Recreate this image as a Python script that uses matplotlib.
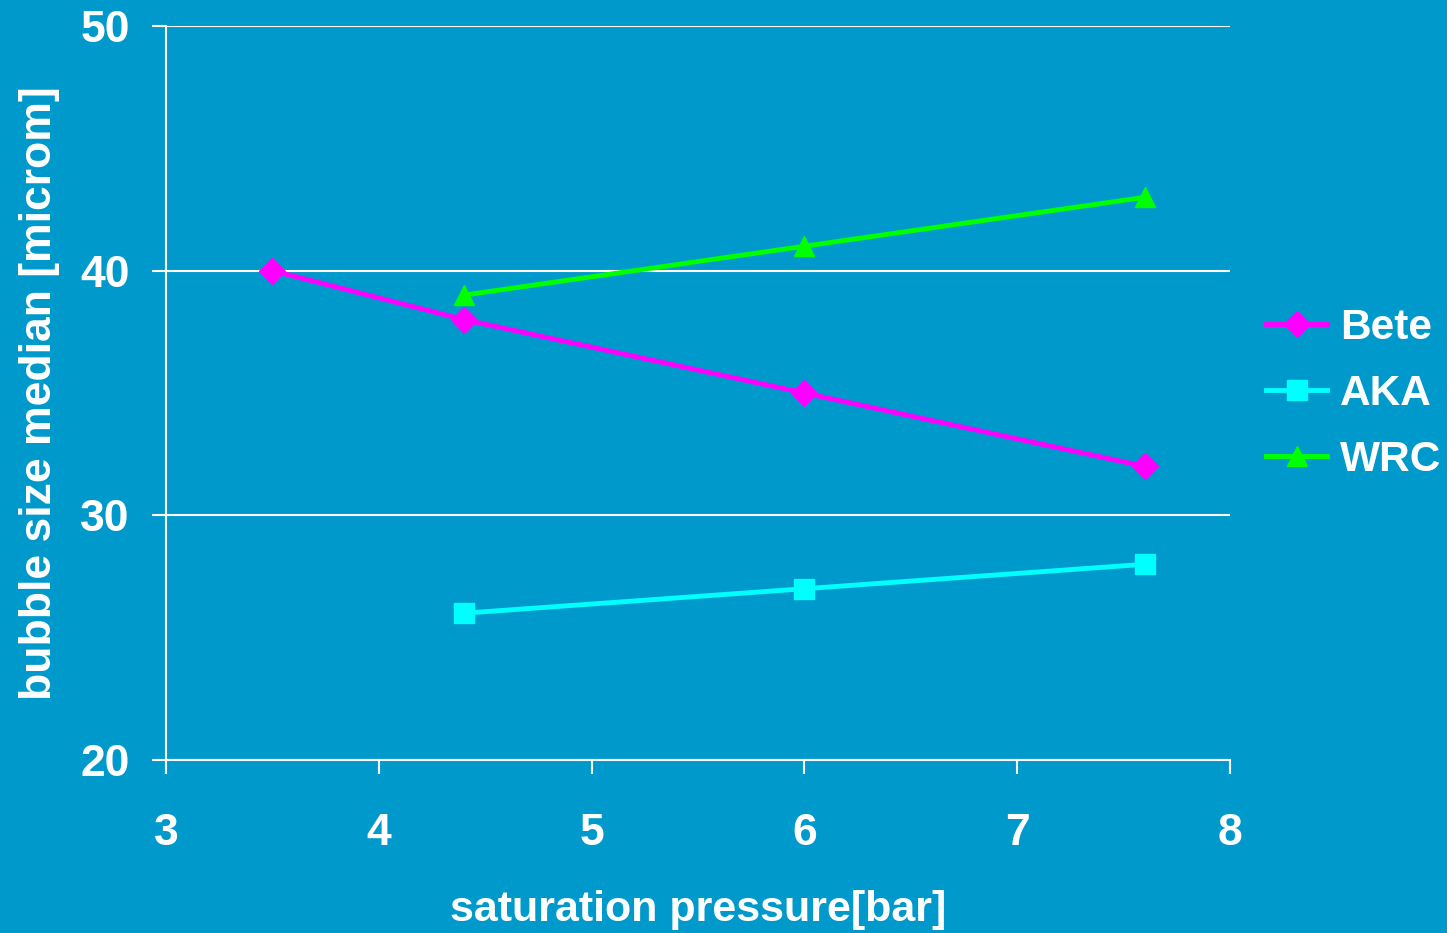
import matplotlib
matplotlib.use("Agg")
from matplotlib import pyplot as plt

plt.rcParams['font.family'] = ['Liberation Sans', 'DejaVu Sans']
plt.rcParams['font.weight'] = 'bold'
plt.rcParams['axes.labelweight'] = 'bold'

# data
pressure_bete = [3.5, 4.4, 6.0, 7.6]
bete = [40, 38, 35, 32]
pressure_aka = [4.4, 6.0, 7.6]
aka = [26, 27, 28]
pressure_wrc = [4.4, 6.0, 7.6]
wrc = [39, 41, 43]

bg = '#0099CC'
fig = plt.figure(figsize=(14.47, 9.33), dpi=100, facecolor=bg)
ax = fig.add_axes([166/1447, 1-760/933, (1230-166)/1447, (760-26)/933])
ax.set_facecolor(bg)

ax.plot(pressure_bete, bete, color='#FF00FF', lw=3.5, marker='D', ms=13, label='Bete', zorder=3)
ax.plot(pressure_aka, aka, color='#00FFFF', lw=3.5, marker='s', ms=14, label='AKA', zorder=3)
ax.plot(pressure_wrc, wrc, color='#00FF00', lw=3.5, marker='^', ms=15, label='WRC', zorder=3)

ax.set_xlim(3, 8)
ax.set_ylim(20, 50)
ax.set_xticks([3, 4, 5, 6, 7, 8])
ax.set_yticks([20, 30, 40, 50])
ax.yaxis.grid(True, color='white', lw=1.5)
ax.set_axisbelow(True)

for s in ['top', 'right']:
    ax.spines[s].set_visible(False)
for s in ['left', 'bottom']:
    ax.spines[s].set_color('white')
    ax.spines[s].set_linewidth(1.5)

ax.tick_params(colors='white', labelsize=32, width=1.5, length=10, direction='out')
ax.tick_params(axis='x', pad=28)
ax.tick_params(axis='y', pad=16)

ax.set_xlabel('saturation pressure[bar]', color='white', fontsize=31, labelpad=26)
ax.set_ylabel('bubble size median [microm]', color='white', fontsize=32, labelpad=15)

leg = fig.legend(loc='center left', bbox_to_anchor=(1266/1447, 1-394/933),
                 frameon=False, fontsize=30.5, labelcolor='white',
                 handlelength=1.45, handletextpad=0.3, labelspacing=0.62,
                 borderaxespad=0, borderpad=0)

fig.savefig('out.png', dpi=100, facecolor=bg)
